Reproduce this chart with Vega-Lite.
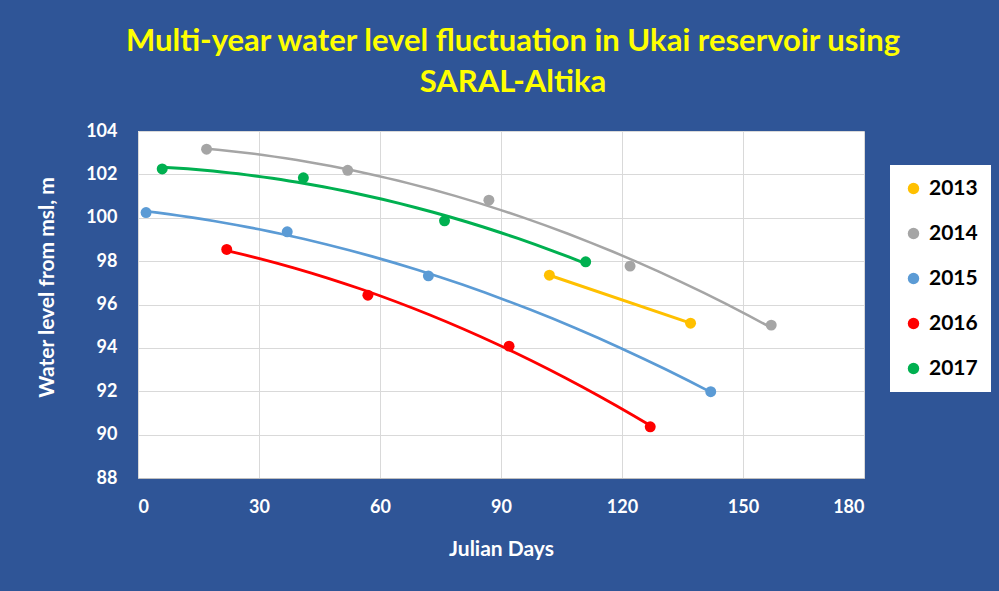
{
  "$schema": "https://vega.github.io/schema/vega-lite/v6.json",
  "autosize": {"type": "none"},
  "width": 726,
  "height": 347,
  "padding": {"left": 138, "top": 131, "right": 135, "bottom": 113},
  "background": "#2F5597",
  "title": {
    "text": ["Multi-year water level fluctuation in Ukai reservoir using", "SARAL-Altika"],
    "color": "#FFFF00",
    "font": "Lato",
    "fontSize": 31,
    "fontWeight": "bold",
    "lineHeight": 41,
    "anchor": "middle",
    "offset": 23,
    "dx": 12
  },
  "config": {
    "view": {"stroke": null, "fill": "white"},
    "axis": {
      "labelFont": "Lato",
      "labelFontWeight": "bold",
      "labelFontSize": 18,
      "labelColor": "white",
      "titleFont": "Lato",
      "titleFontWeight": "bold",
      "titleFontSize": 21,
      "titleColor": "white",
      "ticks": false,
      "gridColor": "#D9D9D9",
      "gridWidth": 1
    },
    "legend": {
      "labelFont": "Lato",
      "labelFontWeight": "bold",
      "labelFontSize": 21,
      "labelColor": "black"
    }
  },
  "data": {"values": [
    {"year": "2013", "day": 102, "level": 97.35},
    {"year": "2013", "day": 137, "level": 95.14},
    {"year": "2014", "day": 17, "level": 103.16},
    {"year": "2014", "day": 52, "level": 102.19},
    {"year": "2014", "day": 87, "level": 100.81},
    {"year": "2014", "day": 122, "level": 97.77},
    {"year": "2014", "day": 157, "level": 95.05},
    {"year": "2015", "day": 2, "level": 100.24},
    {"year": "2015", "day": 37, "level": 99.35},
    {"year": "2015", "day": 72, "level": 97.32},
    {"year": "2015", "day": 142, "level": 91.98},
    {"year": "2016", "day": 22, "level": 98.54},
    {"year": "2016", "day": 57, "level": 96.43},
    {"year": "2016", "day": 92, "level": 94.08},
    {"year": "2016", "day": 127, "level": 90.36},
    {"year": "2017", "day": 6, "level": 102.25},
    {"year": "2017", "day": 41, "level": 101.84},
    {"year": "2017", "day": 76, "level": 99.86},
    {"year": "2017", "day": 111, "level": 97.97}
  ]},
  "encoding": {
    "x": {
      "field": "day", "type": "quantitative",
      "scale": {"domain": [0, 180], "nice": false},
      "axis": {
        "values": [0, 30, 60, 90, 120, 150, 180],
        "title": "Julian Days",
        "labelPadding": 20,
        "domainColor": "#BFBFBF",
        "domainWidth": 1,
        "titleBaseline": "alphabetic",
        "titleY": 77
      }
    },
    "y": {
      "field": "level", "type": "quantitative",
      "scale": {"domain": [88, 104], "nice": false, "zero": false},
      "axis": {
        "values": [88, 90, 92, 94, 96, 98, 100, 102, 104],
        "title": "Water level from msl, m",
        "labelPadding": 21,
        "domain": false,
        "titleX": -91,
        "titleY": 156,
        "titleBaseline": "middle",
        "titleAlign": "center",
        "titleAngle": -90
      }
    }
  },
  "resolve": {"legend": {"color": "independent"}},
  "layer": [
    {
      "transform": [
        {"filter": "datum.year != '2013'"},
        {"regression": "level", "on": "day", "groupby": ["year"], "method": "poly", "order": 2}
      ],
      "mark": {"type": "line", "strokeCap": "round"},
      "encoding": {
        "color": {"field": "year", "type": "nominal", "legend": null},
        "strokeWidth": {
          "field": "year", "type": "nominal",
          "scale": {"domain": ["2014", "2015", "2016", "2017"], "range": [2.5, 3, 3, 4.5]},
          "legend": null
        }
      }
    },
    {
      "transform": [
        {"filter": "datum.year == '2013'"},
        {"regression": "level", "on": "day", "groupby": ["year"], "method": "linear"}
      ],
      "mark": {"type": "line", "strokeWidth": 3, "strokeCap": "round"},
      "encoding": {
        "color": {"field": "year", "type": "nominal", "legend": null}
      }
    },
    {
      "mark": {"type": "point", "filled": true, "size": 120, "opacity": 1, "shape": "circle"},
      "encoding": {
        "color": {
          "field": "year", "type": "nominal",
          "scale": {
            "domain": ["2013", "2014", "2015", "2016", "2017"],
            "range": ["#FFC000", "#A5A5A5", "#5B9BD5", "#FF0000", "#00B050"]
          },
          "legend": {
            "title": null,
            "orient": "none",
            "legendX": 752,
            "legendY": 34,
            "fillColor": "white",
            "padding": 13,
            "symbolType": "circle",
            "symbolSize": 130,
            "symbolStrokeWidth": 0,
            "symbolOpacity": 1,
            "labelOffset": 5,
            "rowPadding": 23
          }
        }
      }
    }
  ]
}
